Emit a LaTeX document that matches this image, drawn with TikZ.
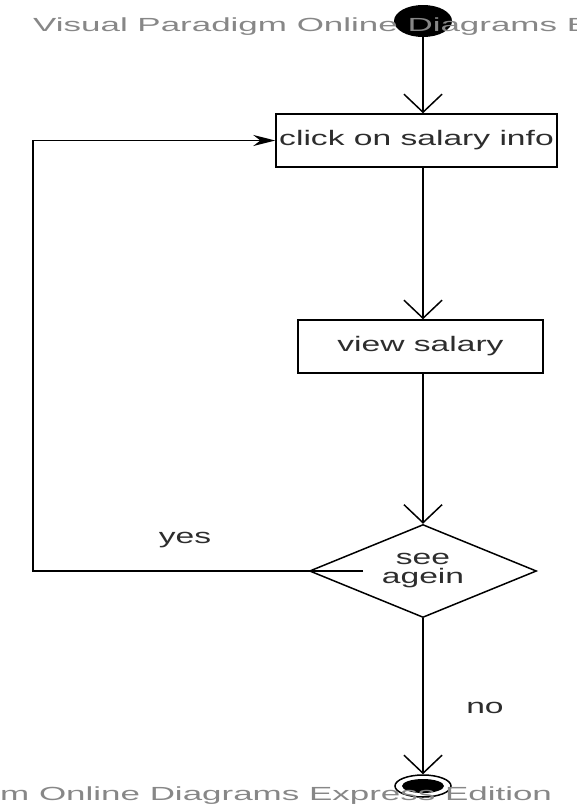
\documentclass[tikz,border=0pt]{standalone}
\usepackage{fontspec}
\usepackage{tikz}
\usetikzlibrary{arrows.meta,shapes.geometric}
\newfontfamily\vpfont[FakeStretch=1.6]{Liberation Sans}
\newfontfamily\vpmark[FakeStretch=1.84]{Liberation Sans}
\definecolor{markgray}{RGB}{135,135,135}
\definecolor{textgray}{RGB}{45,45,45}

\begin{document}
\begin{tikzpicture}[x=1pt,y=-1pt]
\useasboundingbox (0,0) rectangle (577,809);

\begin{scope}[every node/.style={draw,line width=1.5pt,inner sep=0pt,text=textgray,
  font=\vpfont\fontsize{21}{19}\selectfont}]
\node[rectangle,minimum width=281pt,minimum height=53pt] (click) at (416.5,140.5) {click on salary info};
\node[rectangle,minimum width=245pt,minimum height=53pt] (view) at (420.5,346.5) {view salary};
\node[diamond,aspect=2.44,minimum width=227pt,minimum height=93pt,align=center] (again) at (423,571) {see\\agein};
\end{scope}

\node[ellipse,fill=black,minimum width=58pt,minimum height=32pt,inner sep=0pt] (start) at (423,21) {};
\node[ellipse,draw,line width=1.5pt,minimum width=56pt,minimum height=22pt,inner sep=0pt] (stop) at (423,786) {};
\fill (stop.center) ellipse (21 and 7);

\coordinate (yesStart) at (363,571);
\coordinate (loopCorner) at (33,571);

\begin{scope}[>={Straight Barb[length=18pt,width=38pt]},
every edge/.style={draw,line width=1.5pt}]
\path [->] (start) edge (start |- click.north);
\path [->] (start |- click.south) edge (start |- view.north);
\path [->] (start |- view.south) edge (again.north);
\path [->] (again.south) edge (stop.north);
\end{scope}

\draw[line width=1.5pt,-{Stealth[length=22pt,width=11pt]}] (yesStart) -- (loopCorner) |- (click.west);

\begin{scope}[every node/.style={text=textgray,font=\vpfont\fontsize{21}{19}\selectfont,anchor=base}]
\node (yes) at (185,543) {yes};
\node (no) at (485,713) {no};
\end{scope}

% watermark
\begin{scope}[every node/.style={text=markgray,font=\vpmark\fontsize{19}{20}\selectfont,anchor=base west,inner sep=0pt}]
\node (markTop) at (33,31.5) {Visual Paradigm Online Diagrams E};
\node (markBottom) at (0,800) {m Online Diagrams Express Edition};
\end{scope}
\end{tikzpicture}
\end{document}
